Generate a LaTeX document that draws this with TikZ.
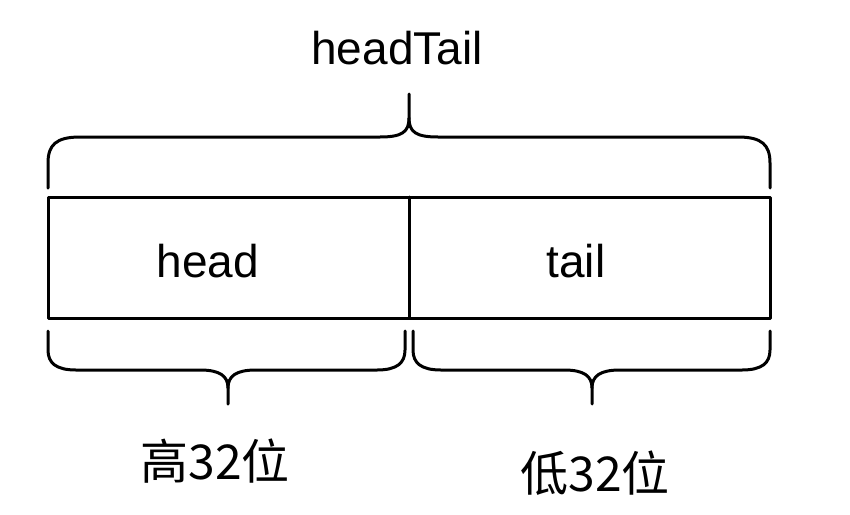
\documentclass[tikz,border=0pt]{standalone}
\usepackage{fontspec}
\setmainfont{Liberation Sans}
\newfontfamily\cjk{Noto Sans CJK SC}
\begin{document}
\begin{tikzpicture}[x=1pt,y=-1pt,
  ln/.style={line width=3pt,line cap=round,line join=round},
  lbl/.style={font=\fontsize{46}{50}\selectfont,anchor=base,inner sep=0pt},
  cjklbl/.style={font=\cjk\fontsize{48}{52}\selectfont,anchor=base,inner sep=0pt}]
\useasboundingbox[fill=white] (0,0) rectangle (850,514);
% box
\draw[ln] (48,197) rectangle (770,318);
\draw[ln] (409,197) -- (409,318);
\node[lbl] (head) at (208,277) {head};
\node[lbl] (tail) at (576,277) {tail};
\node[lbl] (ht) at (397,64) {headTail};
% top brace
\draw[ln] (48,188) -- (48,163) .. controls (48,145) and (56,137) .. (80,137)
  -- (380,137) .. controls (402,137) and (409,132) .. (409,118) -- (409,94);
\draw[ln] (770,188) -- (770,163) .. controls (770,145) and (762,137) .. (738,137)
  -- (438,137) .. controls (416,137) and (409,132) .. (409,118);
% bottom left brace
\draw[ln] (48,331) -- (48,350) .. controls (48,363) and (56,370) .. (76,370)
  -- (200,370) .. controls (220,370) and (228,376) .. (228,388) -- (228,404);
\draw[ln] (405,331) -- (405,350) .. controls (405,363) and (397,370) .. (377,370)
  -- (256,370) .. controls (236,370) and (228,376) .. (228,388);
% bottom right brace
\draw[ln] (413,331) -- (413,350) .. controls (413,363) and (421,370) .. (441,370)
  -- (564,370) .. controls (584,370) and (592,376) .. (592,388) -- (592,404);
\draw[ln] (770,331) -- (770,350) .. controls (770,363) and (762,370) .. (742,370)
  -- (620,370) .. controls (600,370) and (592,376) .. (592,388);
\node[cjklbl] (hi) at (215,479) {高32位};
\node[cjklbl] (lo) at (595,491) {低32位};
\end{tikzpicture}
\end{document}
